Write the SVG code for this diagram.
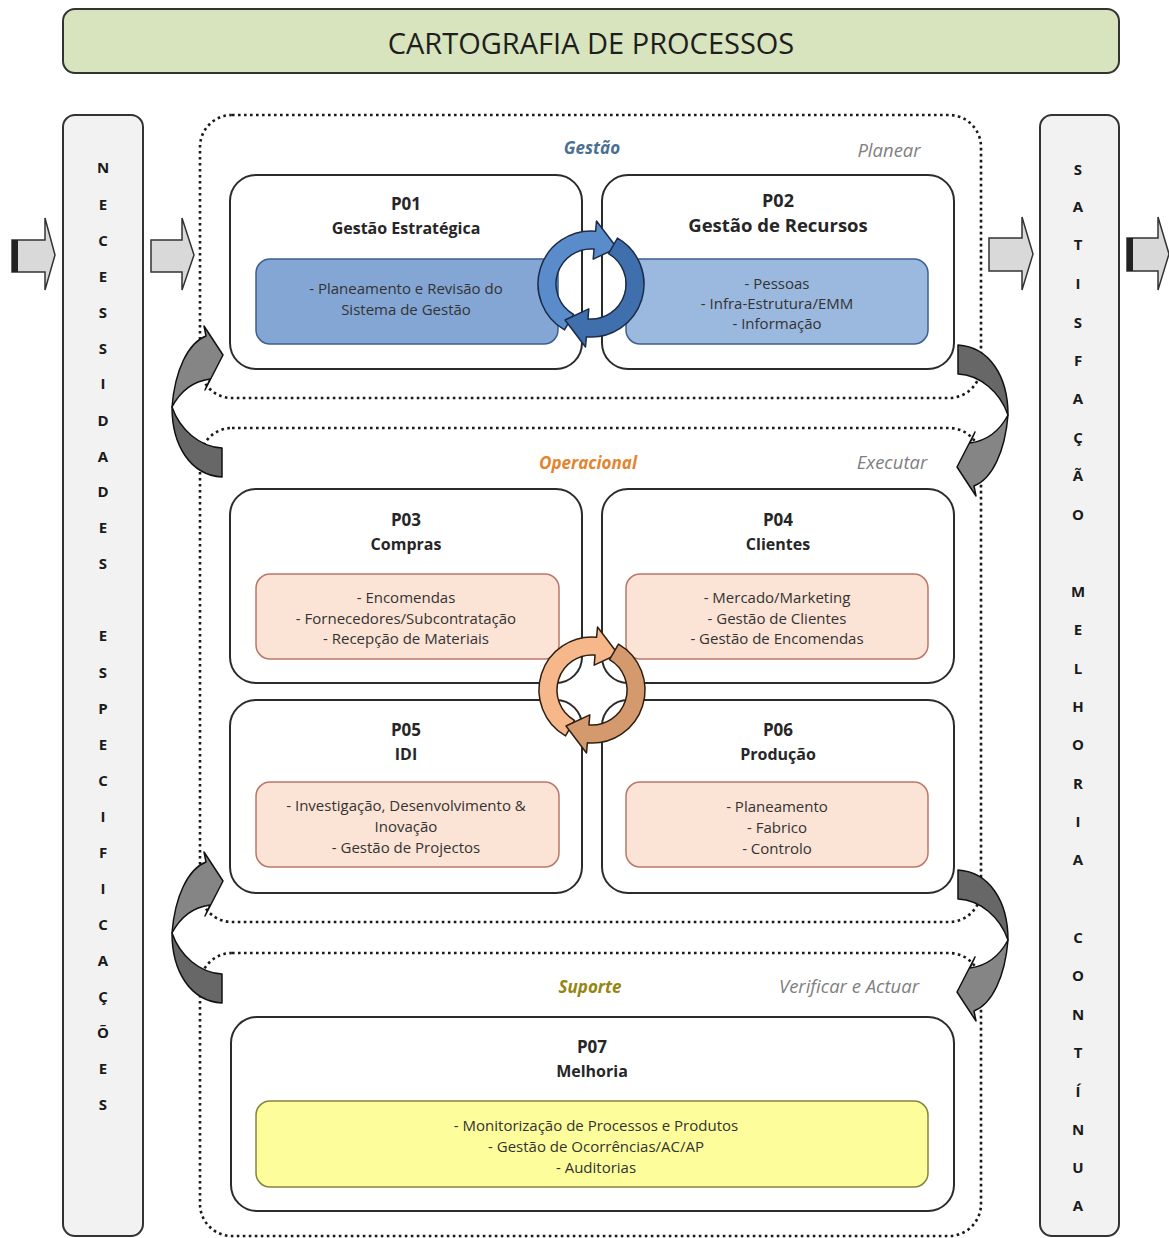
<svg xmlns="http://www.w3.org/2000/svg" xmlns:xlink="http://www.w3.org/1999/xlink" width="1169" height="1238" viewBox="0 0 1169 1238">
  <style>
    text { font-family: "Open Sans", "Liberation Sans", sans-serif; fill: #262626; }
    .title { font-size: 29px; text-anchor: middle; fill: #1e1e1e; }
    .col { fill: #f2f2f2; stroke: #333; stroke-width: 2; }
    .letter { font-size: 15px; font-weight: bold; text-anchor: middle; fill: #1a1a1a; }
    .zone { fill: none; stroke: #1a1a1a; stroke-width: 2.6; stroke-dasharray: 2.6 3.4; }
    .box { fill: #fff; stroke: #2b2b2b; stroke-width: 2; }
    .code { font-size: 17px; font-weight: bold; text-anchor: middle; }
    .name { font-size: 16px; font-weight: bold; text-anchor: middle; }
    .item { font-size: 15px; text-anchor: middle; fill: #333; }
    .zlabel { font-size: 17px; font-style: italic; font-weight: bold; text-anchor: middle; }
    .phase { font-size: 18.5px; font-style: italic; text-anchor: middle; fill: #7f7f7f; }
    .blue1 { fill: #84a6d5; stroke: #3d5f8e; stroke-width: 1.5; }
    .blue2 { fill: #9bb8de; stroke: #3d5f8e; stroke-width: 1.5; }
    .peach { fill: #fbe3d5; stroke: #b9786a; stroke-width: 1.5; }
    .yellow { fill: #fdfd9c; stroke: #84843a; stroke-width: 1.5; }
    .block { fill: #d9d9d9; stroke: #333; stroke-width: 1.5; }
    .turnA { fill: #858585; stroke: #111; stroke-width: 1.5; stroke-linejoin: round; }
    .turnB { fill: #676767; stroke: #111; stroke-width: 1.5; stroke-linejoin: round; }
  </style>
  <defs>
    <!-- curved hand-over arrow between two zones (head part light, tail part dark) -->
    <g id="turn">
      <path class="turnB" d="M172,407 C180,430 200,447 222,448 L222,477 C190,475 172,445 172,407 Z"/>
      <path class="turnA" d="M172,407 C175,370 188,343 206,336 L204,326 L223,355 L205,390 L210,379 C195,381 181,390 172,407 Z"/>
    </g>
    <!-- one half of a circular cycle arrow, centred on 0,0 -->
    <path id="cyc" d="M-17.5,30.3 L-26.5,45.9 A53,53 0 0 1 4.6,-52.8 L5.5,-63 L26,-36 L2.2,-24.9 L3.05,-34.9 A35,35 0 0 0 -17.5,30.3 Z"/>
  </defs>

  <!-- title bar -->
  <g id="title">
    <rect x="63" y="9" width="1056" height="64" rx="12" fill="#d7e4bd" stroke="#333" stroke-width="2"/>
    <text class="title" x="591" y="54">CARTOGRAFIA DE PROCESSOS</text>
  </g>

  <!-- input column -->
  <g id="necessidades">
    <rect class="col" x="63" y="115" width="80" height="1121" rx="12"/>
    <g class="letters">
      <text class="letter" x="103" y="173">N</text>
      <text class="letter" x="103" y="210">E</text>
      <text class="letter" x="103" y="246">C</text>
      <text class="letter" x="103" y="282">E</text>
      <text class="letter" x="103" y="318">S</text>
      <text class="letter" x="103" y="354">S</text>
      <text class="letter" x="103" y="389">I</text>
      <text class="letter" x="103" y="426">D</text>
      <text class="letter" x="103" y="462">A</text>
      <text class="letter" x="103" y="497">D</text>
      <text class="letter" x="103" y="533">E</text>
      <text class="letter" x="103" y="569">S</text>
      <text class="letter" x="103" y="641">E</text>
      <text class="letter" x="103" y="678">S</text>
      <text class="letter" x="103" y="714">P</text>
      <text class="letter" x="103" y="750">E</text>
      <text class="letter" x="103" y="786">C</text>
      <text class="letter" x="103" y="822">I</text>
      <text class="letter" x="103" y="858">F</text>
      <text class="letter" x="103" y="894">I</text>
      <text class="letter" x="103" y="930">C</text>
      <text class="letter" x="103" y="966">A</text>
      <text class="letter" x="103" y="1002">Ç</text>
      <text class="letter" x="103" y="1038">Õ</text>
      <text class="letter" x="103" y="1074">E</text>
      <text class="letter" x="103" y="1110">S</text>
    </g>
  </g>

  <!-- output column -->
  <g id="satisfacao">
    <rect class="col" x="1040" y="115" width="79" height="1121" rx="12"/>
    <g class="letters">
      <text class="letter" x="1078" y="175">S</text>
      <text class="letter" x="1078" y="212">A</text>
      <text class="letter" x="1078" y="250">T</text>
      <text class="letter" x="1078" y="289">I</text>
      <text class="letter" x="1078" y="328">S</text>
      <text class="letter" x="1078" y="366">F</text>
      <text class="letter" x="1078" y="404">A</text>
      <text class="letter" x="1078" y="443">Ç</text>
      <text class="letter" x="1078" y="481">Ã</text>
      <text class="letter" x="1078" y="520">O</text>
      <text class="letter" x="1078" y="597">M</text>
      <text class="letter" x="1078" y="635">E</text>
      <text class="letter" x="1078" y="674">L</text>
      <text class="letter" x="1078" y="712">H</text>
      <text class="letter" x="1078" y="750">O</text>
      <text class="letter" x="1078" y="789">R</text>
      <text class="letter" x="1078" y="827">I</text>
      <text class="letter" x="1078" y="865">A</text>
      <text class="letter" x="1078" y="943">C</text>
      <text class="letter" x="1078" y="981">O</text>
      <text class="letter" x="1078" y="1020">N</text>
      <text class="letter" x="1078" y="1058">T</text>
      <text class="letter" x="1078" y="1097">Í</text>
      <text class="letter" x="1078" y="1135">N</text>
      <text class="letter" x="1078" y="1173">U</text>
      <text class="letter" x="1078" y="1211">A</text>
    </g>
  </g>

  <!-- zones -->
  <g id="zona-gestao">
    <rect class="zone" x="200" y="115" width="781" height="283" rx="32"/>
    <text class="zlabel" x="592" y="154" style="fill:#4a6f91">Gestão</text>
    <text class="phase" x="889" y="157">Planear</text>
  </g>
  <g id="zona-operacional">
    <rect class="zone" x="200" y="428" width="781" height="494" rx="32"/>
    <text class="zlabel" x="588" y="469" style="fill:#e2852f">Operacional</text>
    <text class="phase" x="892" y="469">Executar</text>
  </g>
  <g id="zona-suporte">
    <rect class="zone" x="200" y="953" width="781" height="283" rx="32"/>
    <text class="zlabel" x="590" y="993" style="fill:#96850f">Suporte</text>
    <text class="phase" x="849" y="993">Verificar e Actuar</text>
  </g>

  <!-- processes -->
  <g id="p01">
    <rect class="box" x="230" y="175" width="352" height="194" rx="26"/>
    <text class="code" x="406" y="210">P01</text>
    <text class="name" x="406" y="234">Gestão Estratégica</text>
    <rect class="blue1" x="256" y="259" width="302" height="85" rx="14"/>
    <text class="item" x="406" y="294">- Planeamento e Revisão do</text>
    <text class="item" x="406" y="315">Sistema de Gestão</text>
  </g>
  <g id="p02">
    <rect class="box" x="602" y="175" width="352" height="194" rx="26"/>
    <text class="code" x="778" y="207" style="font-size:18px">P02</text>
    <text class="name" x="778" y="232" style="font-size:18.5px">Gestão de Recursos</text>
    <rect class="blue2" x="626" y="259" width="302" height="85" rx="14"/>
    <text class="item" x="777" y="289">- Pessoas</text>
    <text class="item" x="777" y="309">- Infra-Estrutura/EMM</text>
    <text class="item" x="777" y="329">- Informação</text>
  </g>
  <g id="p03">
    <rect class="box" x="230" y="489" width="352" height="194" rx="26"/>
    <text class="code" x="406" y="526">P03</text>
    <text class="name" x="406" y="550">Compras</text>
    <rect class="peach" x="256" y="574" width="303" height="85" rx="14"/>
    <text class="item" x="406" y="603">- Encomendas</text>
    <text class="item" x="406" y="624">- Fornecedores/Subcontratação</text>
    <text class="item" x="406" y="644">- Recepção de Materiais</text>
  </g>
  <g id="p04">
    <rect class="box" x="602" y="489" width="352" height="194" rx="26"/>
    <text class="code" x="778" y="526">P04</text>
    <text class="name" x="778" y="550">Clientes</text>
    <rect class="peach" x="626" y="574" width="302" height="85" rx="14"/>
    <text class="item" x="777" y="603">- Mercado/Marketing</text>
    <text class="item" x="777" y="624">- Gestão de Clientes</text>
    <text class="item" x="777" y="644">- Gestão de Encomendas</text>
  </g>
  <g id="p05">
    <rect class="box" x="230" y="700" width="352" height="193" rx="26"/>
    <text class="code" x="406" y="736">P05</text>
    <text class="name" x="406" y="760">IDI</text>
    <rect class="peach" x="256" y="782" width="303" height="85" rx="14"/>
    <text class="item" x="406" y="811">- Investigação, Desenvolvimento &amp;</text>
    <text class="item" x="406" y="832">Inovação</text>
    <text class="item" x="406" y="853">- Gestão de Projectos</text>
  </g>
  <g id="p06">
    <rect class="box" x="602" y="700" width="352" height="193" rx="26"/>
    <text class="code" x="778" y="736">P06</text>
    <text class="name" x="778" y="760">Produção</text>
    <rect class="peach" x="626" y="782" width="302" height="85" rx="14"/>
    <text class="item" x="777" y="812">- Planeamento</text>
    <text class="item" x="777" y="833">- Fabrico</text>
    <text class="item" x="777" y="854">- Controlo</text>
  </g>
  <g id="p07">
    <rect class="box" x="231" y="1017" width="723" height="194" rx="26"/>
    <text class="code" x="592" y="1053">P07</text>
    <text class="name" x="592" y="1077">Melhoria</text>
    <rect class="yellow" x="256" y="1101" width="672" height="86" rx="14"/>
    <text class="item" x="596" y="1131">- Monitorização de Processos e Produtos</text>
    <text class="item" x="596" y="1152">- Gestão de Ocorrências/AC/AP</text>
    <text class="item" x="596" y="1173">- Auditorias</text>
  </g>

  <!-- connectors -->
  <g id="connectors">
    <!-- input / output block arrows -->
    <path class="block" d="M12,240 L45,240 L45,218 L55,255 L45,290 L45,272 L12,272 Z"/>
    <rect x="12" y="240" width="6" height="32" fill="#222"/>
    <path class="block" d="M151,240 L182,240 L182,218 L194,255 L182,290 L182,272 L151,272 Z"/>
    <path class="block" d="M989,238 L1022,238 L1022,217 L1033,254 L1022,290 L1022,271 L989,271 Z"/>
    <path class="block" d="M1127,238 L1158,238 L1158,217 L1169,254 L1158,290 L1158,271 L1127,271 Z"/>
    <rect x="1127" y="238" width="6" height="33" fill="#222"/>

    <!-- cycle between P01 and P02 -->
    <g transform="translate(591,284)" stroke="#1c2c48" stroke-width="1.5" stroke-linejoin="round">
      <use xlink:href="#cyc" fill="#5a8ccc"/>
      <use xlink:href="#cyc" fill="#3f6fac" transform="rotate(180)"/>
    </g>
    <!-- cycle among P03..P06 -->
    <g transform="translate(592,690)" stroke="#2e1f12" stroke-width="1.5" stroke-linejoin="round">
      <use xlink:href="#cyc" fill="#f6b88a"/>
      <use xlink:href="#cyc" fill="#d49a6e" transform="rotate(180)"/>
    </g>

    <!-- hand-over arrows between zones -->
    <use xlink:href="#turn"/>
    <use xlink:href="#turn" transform="translate(0,526)"/>
    <use xlink:href="#turn" transform="rotate(180,590,411)"/>
    <use xlink:href="#turn" transform="translate(0,525) rotate(180,590,411)"/>
  </g>
</svg>
